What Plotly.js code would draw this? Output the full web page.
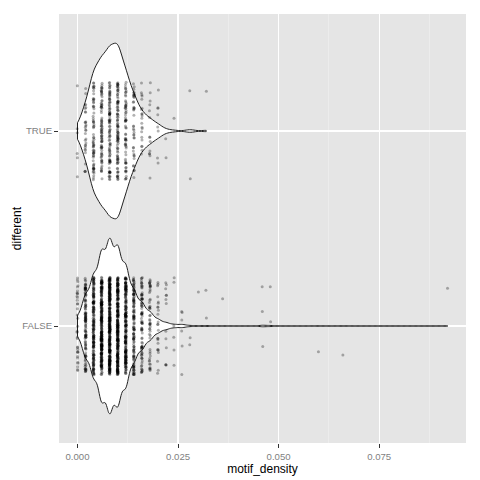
<!DOCTYPE html>
<html><head><meta charset="utf-8">
<script src="https://cdn.plot.ly/plotly-3.0.1.min.js"></script>
<style>html,body{margin:0;padding:0;background:#fff}#chart{width:480px;height:480px}</style>
</head><body><div id="chart"></div>
<script>
// ---- data ----
const categories = ['FALSE', 'TRUE'];
const valuesTrue = [0.000, 0.002, 0.004, 0.006, 0.008, 0.010, 0.012, 0.014, 0.016, 0.018, 0.020, 0.022, 0.024, 0.028, 0.032];
const countsTrue = [6, 30, 68, 80, 92, 98, 66, 40, 21, 14, 8, 2, 1, 2, 1];
const valuesFalse = [0.000, 0.002, 0.004, 0.006, 0.008, 0.010, 0.012, 0.014, 0.016, 0.018, 0.020, 0.022, 0.024, 0.026, 0.028, 0.030, 0.032, 0.036, 0.046, 0.048, 0.060, 0.066, 0.092];
const countsFalse = [35, 115, 186, 275, 318, 291, 223, 130, 86, 52, 25, 13, 6, 6, 2, 1, 2, 1, 3, 2, 1, 1, 1];
const xTickVals = [0, 0.025, 0.05, 0.075];
const xTickText = ['0.000', '0.025', '0.050', '0.075'];
const xMinorVals = [0.0125, 0.0375, 0.0625, 0.0875];
const xTitle = 'motif_density';
const yTitle = 'different';

// ---- helpers ----
function expand(values, counts) {
  const out = [];
  values.forEach((v, i) => { for (let j = 0; j < counts[i]; j++) out.push(v); });
  return out;
}
function quantile7(sorted, p) {
  const h = (sorted.length - 1) * p, lo = Math.floor(h), hi = Math.ceil(h);
  return sorted[lo] + (h - lo) * (sorted[hi] - sorted[lo]);
}
function nrd0(v) {
  const n = v.length;
  const mean = v.reduce((a, b) => a + b, 0) / n;
  const sd = Math.sqrt(v.reduce((a, b) => a + (b - mean) * (b - mean), 0) / (n - 1));
  const s = v.slice().sort((a, b) => a - b);
  const iqr = quantile7(s, 0.75) - quantile7(s, 0.25);
  const lo = Math.min(sd, iqr / 1.34);
  return 0.9 * lo * Math.pow(n, -0.2);
}
function makeJitter(seed) {
  return function () {
    seed |= 0; seed = seed + 0x6D2B79F5 | 0;
    let t = Math.imul(seed ^ seed >>> 15, 1 | seed);
    t = t + Math.imul(t ^ t >>> 7, 61 | t) ^ t;
    return ((t ^ t >>> 14) >>> 0) / 4294967296;
  };
}

const groups = [
  { pos: 1, values: valuesFalse, counts: countsFalse, seed: 11 },
  { pos: 2, values: valuesTrue, counts: countsTrue, seed: 29 }
];

const violins = [], pointTraces = [];
groups.forEach(g => {
  const obs = expand(g.values, g.counts);
  violins.push({
    type: 'violin', orientation: 'h', x: obs, y0: g.pos,
    width: 0.9, scalemode: 'width', spanmode: 'hard', bandwidth: nrd0(obs),
    side: 'both', points: false, box: { visible: false }, meanline: { visible: false },
    fillcolor: '#FFFFFF', line: { color: '#222222', width: 1 }, hoverinfo: 'skip', showlegend: false
  });
  const rnd = makeJitter(g.seed);
  pointTraces.push({
    type: 'scatter', mode: 'markers',
    x: obs.map(v => v + (rnd() * 2 - 1) * 0.00012),
    y: obs.map(() => g.pos + (rnd() * 2 - 1) * 0.25),
    marker: { size: 3, color: 'rgba(0,0,0,0.3)', line: { width: 0 } },
    hoverinfo: 'skip', showlegend: false
  });
});

const layout = {
  width: 480, height: 480,
  margin: { l: 59, r: 14, t: 14, b: 37 },
  paper_bgcolor: '#FFFFFF', plot_bgcolor: '#E5E5E5',
  showlegend: false,
  violinmode: 'overlay', violingap: 0, violingroupgap: 0,
  font: { family: 'Liberation Sans, Arial, sans-serif' },
  xaxis: {
    range: [-0.0046, 0.0966], tickmode: 'array', tickvals: xTickVals, ticktext: xTickText,
    ticks: 'outside', ticklen: 4, tickwidth: 1, tickcolor: '#333333',
    tickfont: { size: 9.6, color: '#7F7F7F' },
    showgrid: true, gridcolor: '#FFFFFF', gridwidth: 1.1, zeroline: false, showline: false,
    minor: { tickmode: 'array', tickvals: xMinorVals, showgrid: true, gridcolor: '#F2F2F2', gridwidth: 0.55, ticks: '' },
    title: { text: xTitle, font: { size: 12, color: '#000000' }, standoff: 1 },
    automargin: false, fixedrange: true
  },
  yaxis: {
    range: [0.4, 2.6], tickmode: 'array', tickvals: [1, 2], ticktext: categories,
    ticks: 'outside', ticklen: 4, tickwidth: 1, tickcolor: '#333333',
    tickfont: { size: 9.6, color: '#7F7F7F' },
    showgrid: true, gridcolor: '#FFFFFF', gridwidth: 1.1, zeroline: false, showline: false,
    automargin: false, fixedrange: true
  },
  annotations: [{
    text: yTitle, xref: 'paper', yref: 'paper', x: -0.104, y: 0.5,
    xanchor: 'center', yanchor: 'middle', textangle: -90, showarrow: false,
    font: { size: 12, color: '#000000', family: 'Liberation Sans, Arial, sans-serif' }
  }]
};

Plotly.newPlot('chart', violins.concat(pointTraces), layout, { staticPlot: true, displayModeBar: false });
</script>
</body></html>
